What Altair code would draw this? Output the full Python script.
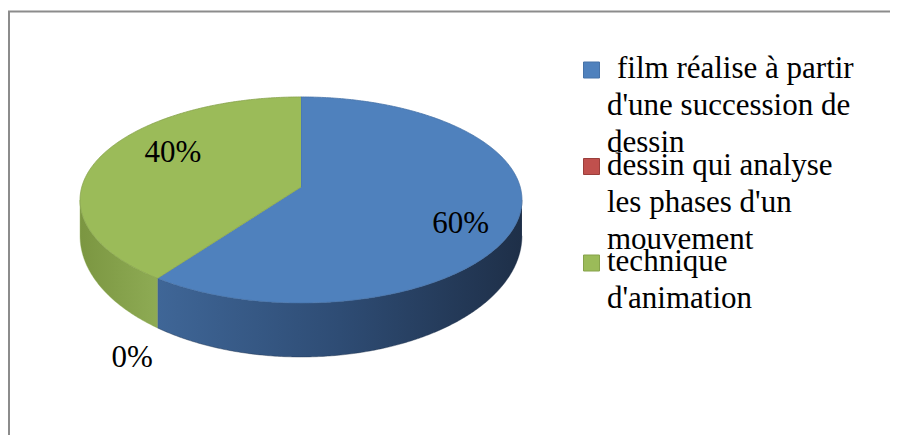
import math
import pandas as pd
import altair as alt

# ---------------- data ----------------
categories = [
    "film réalise à partir d'une succession de dessin",
    "dessin qui analyse les phases d'un mouvement",
    "technique d'animation",
]
values = [60, 0, 40]
pct_labels = ["60%", "0%", "40%"]
legend_lines = [
    ["film réalise à partir", "d'une succession de", "dessin"],
    ["dessin qui analyse", "les phases d'un", "mouvement"],
    ["technique", "d'animation"],
]

# ---------------- styles ----------------
top_colors = ["#4F81BD", "#C0504D", "#9BBB59"]
edge_colors = ["#4672A8", "#9A3E3B", "#86A24B"]
marker_stroke = ["#385D8A", "#8C3836", "#71893F"]
side_gradients = [
    [("#3F6697", 0.0), ("#2E4C74", 0.5), ("#1E2F48", 1.0)],
    [("#8E3A37", 0.0), ("#6E2B29", 1.0)],
    [("#7B9641", 0.0), ("#8EAB54", 1.0)],
]
FONT = "Liberation Serif"

# pie geometry (perspective view of a disc), in page pixels
CX, CY = 301.0, 187.0      # apex of the top face
A, B, P = 219.2, 101.4, 0.126
CY_BOT, B_BOT = 220.5, 119.3
# label placement (relative to the plain ellipse)
LCX, LCY, LRX, LRY = 301.0, 200.0, 221.0, 103.0
label_fx = [0.76, 1.3, 0.61]
label_fy = [0.75, 1.9, 1.47]
# legend placement
LEG_MX, LEG_TX, LEG_Y0, LEG_STEP = 591.5, 607.0, 70.0, 96.5
LINE_H, BASE_DY = 37.0, 8.0
first_indent = [10.0, 0.0, 0.0]


def proj(theta, cy, b):
    t = math.radians(theta)
    n = -math.cos(t)
    w = 1 - P * n
    return CX + A * math.sin(t) / w, cy + b * n / w


total = sum(values)
starts, ends = [], []
acc = 0.0
for v in values:
    starts.append(acc / total * 360.0)
    acc += v
    ends.append(acc / total * 360.0)

top_rows, side_rows = [], []
vis_lo = math.degrees(math.acos(-P))
vis_hi = 360.0 - vis_lo
for i, (cat, a0, a1) in enumerate(zip(categories, starts, ends)):
    if a1 - a0 <= 0:
        continue
    n = max(2, int((a1 - a0) * 2))
    top_rows.append(dict(cat=cat, k=0, x=CX, y=CY))
    for j in range(n + 1):
        th = a0 + (a1 - a0) * j / n
        x, y = proj(th, CY, B)
        top_rows.append(dict(cat=cat, k=j + 1, x=x, y=y))
    s0, s1 = max(a0, vis_lo), min(a1, vis_hi)
    if s1 > s0:
        m = max(2, int((s1 - s0) * 2))
        k = 0
        for j in range(m + 1):
            th = s0 + (s1 - s0) * j / m
            x, y = proj(th, CY, B)
            side_rows.append(dict(cat=cat, idx=i, k=k, x=x, y=y)); k += 1
        for j in range(m + 1):
            th = s1 - (s1 - s0) * j / m
            x, y = proj(th, CY_BOT, B_BOT)
            side_rows.append(dict(cat=cat, idx=i, k=k, x=x, y=y)); k += 1

top_df = pd.DataFrame(top_rows)
side_df = pd.DataFrame(side_rows)

lab_rows = []
for i, (a0, a1) in enumerate(zip(starts, ends)):
    mid = math.radians((a0 + a1) / 2)
    lab_rows.append(dict(
        label=pct_labels[i],
        x=LCX + LRX * label_fx[i] * math.sin(mid),
        y=LCY - LRY * label_fy[i] * math.cos(mid),
    ))
lab_df = pd.DataFrame(lab_rows)

leg_df = pd.DataFrame(dict(
    cat=categories,
    x=[LEG_MX] * len(categories),
    y=[LEG_Y0 + i * LEG_STEP for i in range(len(categories))],
))

line_rows = []
for i, lines in enumerate(legend_lines):
    for j, t in enumerate(lines):
        line_rows.append(dict(
            text=t,
            x=LEG_TX + (first_indent[i] if j == 0 else 0.0),
            y=LEG_Y0 + i * LEG_STEP + BASE_DY + j * LINE_H,
        ))
line_df = pd.DataFrame(line_rows)

xs = alt.Scale(domain=[8, 890], nice=False, zero=False)
ys = alt.Scale(domain=[435, 8], nice=False, zero=False)
X = alt.X("x:Q", scale=xs, axis=None)
Y = alt.Y("y:Q", scale=ys, axis=None)

layers = []

# side walls
for i, cat in enumerate(categories):
    sub = side_df[side_df["cat"] == cat] if len(side_df) else side_df
    if len(sub) == 0:
        continue
    grad = alt.LinearGradient(
        gradient="linear",
        stops=[alt.GradientStop(color=c, offset=o) for c, o in side_gradients[i]],
        x1=0, x2=1, y1=0, y2=0,
    )
    layers.append(
        alt.Chart(sub).mark_line(fill=grad, stroke=side_gradients[i][-1][0],
                                 strokeWidth=0.4, strokeJoin="round")
        .encode(x=X, y=Y, order="k:Q")
    )

# top face
layers.append(
    alt.Chart(top_df).mark_line(strokeWidth=0.8, strokeJoin="round")
    .encode(
        x=X, y=Y, order="k:Q", detail="cat:N",
        fill=alt.Fill("cat:N", scale=alt.Scale(domain=categories, range=top_colors), legend=None),
        stroke=alt.Stroke("cat:N", scale=alt.Scale(domain=categories, range=edge_colors), legend=None),
    )
)

# percentage labels
layers.append(
    alt.Chart(lab_df).mark_text(font=FONT, fontSize=31, baseline="middle",
                                align="center", color="#000000")
    .encode(x=X, y=Y, text="label:N")
)

# legend markers
layers.append(
    alt.Chart(leg_df).mark_square(size=256, opacity=1, strokeWidth=1)
    .encode(
        x=X, y=Y,
        fill=alt.Fill("cat:N", scale=alt.Scale(domain=categories, range=top_colors), legend=None),
        stroke=alt.Stroke("cat:N", scale=alt.Scale(domain=categories, range=marker_stroke), legend=None),
    )
)

# legend text (one row per line)
layers.append(
    alt.Chart(line_df).mark_text(font=FONT, fontSize=31, align="left",
                                 baseline="alphabetic", color="#000000")
    .encode(x=X, y=Y, text="text:N")
)

# chart frame (top and left edges)
frame_df = pd.DataFrame(dict(x=[8], y=[8]))
layers.append(
    alt.Chart(frame_df).mark_rule(color="#8C8C8C", strokeWidth=2)
    .encode(x=alt.value(0), x2=alt.value(882), y=alt.value(3.5))
)
layers.append(
    alt.Chart(frame_df).mark_rule(color="#8C8C8C", strokeWidth=2)
    .encode(x=alt.value(1), y=alt.value(3), y2=alt.value(427))
)

chart = (
    alt.layer(*layers)
    .properties(width=882, height=427, padding=0, autosize="none", background="white")
    .configure_view(stroke=None)
)

chart.save("out.html", embed_options={"renderer": "svg", "actions": False})
